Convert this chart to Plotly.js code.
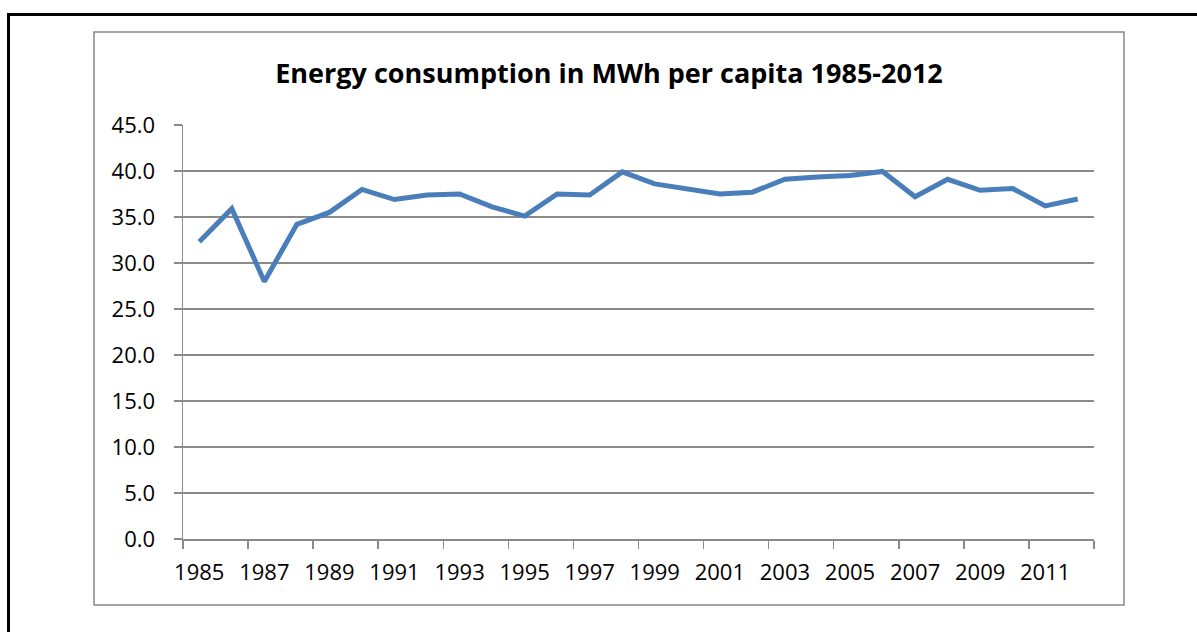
<!DOCTYPE html>
<html>
<head>
<meta charset="utf-8">
<script src="https://cdn.plot.ly/plotly-3.0.1.min.js"></script>
<style>
html,body{margin:0;padding:0;background:#fff;}
#chart{width:1197px;height:632px;}
</style>
</head>
<body>
<div id="chart"></div>
<script>
// Data
const years = [1985,1986,1987,1988,1989,1990,1991,1992,1993,1994,1995,1996,1997,1998,
               1999,2000,2001,2002,2003,2004,2005,2006,2007,2008,2009,2010,2011,2012];
const consumption = [32.3,35.9,28.0,34.2,35.5,38.0,36.9,37.4,37.5,36.1,35.1,37.5,37.4,39.9,
                     38.6,38.0,37.5,37.7,39.1,39.35,39.5,39.95,37.2,39.1,37.9,38.1,36.2,36.95];
const tickLabelYears = [1985,1987,1989,1991,1993,1995,1997,1999,2001,2003,2005,2007,2009,2011];
const tickBoundaries = [1984.5,1986.5,1988.5,1990.5,1992.5,1994.5,1996.5,1998.5,2000.5,2002.5,2004.5,2006.5,2008.5,2010.5,2012.5];
const chartTitle = 'Energy consumption in MWh per capita 1985-2012';

// pixel -> paper helpers
const W = 1197, H = 632;
const L = 183, R = 1094, T = 125, B = 539;
const px = x => (x - L) / (R - L);
const py = y => (B - y) / (B - T);

const font = 'Open Sans, Noto Sans, sans-serif';
const gridCol = '#8a8a8a';

const trace = {
  x: years, y: consumption, type: 'scatter', mode: 'lines',
  line: {color: '#4A7EBB', width: 5, shape: 'linear'},
  hoverinfo: 'x+y', showlegend: false
};

const layout = {
  width: W, height: H,
  margin: {l: L, r: W - R, t: T, b: H - B, pad: 0},
  paper_bgcolor: '#ffffff', plot_bgcolor: '#ffffff',
  font: {family: font, color: '#000', size: 22},
  title: {
    text: '<b>' + chartTitle + '</b>',
    font: {family: font, size: 27, color: '#000'},
    x: px(609), xref: 'paper', xanchor: 'center',
    y: 1 - 74 / H, yref: 'container', yanchor: 'middle'
  },
  xaxis: {
    type: 'linear', range: [1984.5, 2012.5], fixedrange: true,
    tickmode: 'array', tickvals: tickBoundaries, showticklabels: false,
    ticks: 'outside', ticklen: 8, tickwidth: 1.5, tickcolor: gridCol,
    showgrid: false, zeroline: false,
    showline: true, linecolor: gridCol, linewidth: 1.5
  },
  xaxis2: {
    type: 'linear', range: [1984.5, 2012.5], overlaying: 'x', matches: 'x', side: 'bottom',
    tickmode: 'array', tickvals: tickLabelYears, ticktext: tickLabelYears.map(String),
    ticks: '', showgrid: false, zeroline: false, showline: false,
    ticklabelstandoff: 18,
    tickfont: {family: font, size: 22, color: '#000'}
  },
  yaxis: {
    range: [0, 45], fixedrange: true,
    tickmode: 'linear', tick0: 0, dtick: 5, tickformat: '.1f',
    ticks: 'outside', ticklen: 8, tickwidth: 1.5, tickcolor: gridCol,
    showgrid: true, gridcolor: gridCol, gridwidth: 1.5,
    zeroline: false, showline: true, linecolor: gridCol, linewidth: 1.5,
    ticklabelstandoff: 14,
    tickfont: {family: font, size: 22, color: '#000'}
  },
  shapes: [
    // outer black frame (left and top)
    {type: 'line', xref: 'paper', yref: 'paper', x0: px(8.5), x1: px(8.5), y0: py(13), y1: py(640),
     line: {color: '#000', width: 3}},
    {type: 'line', xref: 'paper', yref: 'paper', x0: px(7), x1: px(1200), y0: py(14.5), y1: py(14.5),
     line: {color: '#000', width: 3}},
    // inner chart box
    {type: 'rect', xref: 'paper', yref: 'paper', x0: px(94), x1: px(1124), y0: py(32), y1: py(605),
     line: {color: '#888888', width: 1.5}, fillcolor: 'rgba(0,0,0,0)', layer: 'below'}
  ]
};

const trace2 = {x: [years[0]], y: [null], xaxis: 'x2', type: 'scatter', mode: 'lines', showlegend: false, hoverinfo: 'skip'};

Plotly.newPlot('chart', [trace, trace2], layout, {displayModeBar: false, staticPlot: true});
</script>
</body>
</html>
